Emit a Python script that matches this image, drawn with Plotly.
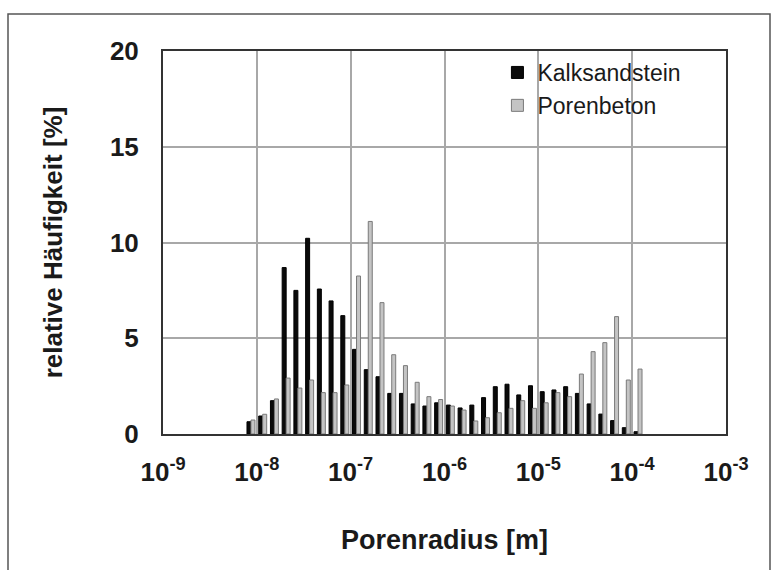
import plotly.graph_objects as go

# Bin centres, log10 of pore radius in metres (8 bins per decade)
radius_log10 = [-8.0625, -7.9375, -7.8125, -7.6875, -7.5625, -7.4375, -7.3125, -7.1875,
                -7.0625, -6.9375, -6.8125, -6.6875, -6.5625, -6.4375, -6.3125, -6.1875,
                -6.0625, -5.9375, -5.8125, -5.6875, -5.5625, -5.4375, -5.3125, -5.1875,
                -5.0625, -4.9375, -4.8125, -4.6875, -4.5625, -4.4375, -4.3125, -4.1875,
                -4.0625, -3.9375]

kalksandstein = [0.64, 0.94, 1.74, 8.69, 7.50, 10.22, 7.57, 6.95, 6.18, 4.42, 3.36, 2.99,
                 2.12, 2.12, 1.57, 1.46, 1.63, 1.51, 1.36, 1.51, 1.90, 2.47, 2.60, 2.04,
                 2.52, 2.21, 2.30, 2.47, 2.12, 1.57, 1.04, 0.70, 0.33, 0.12]

porenbeton = [0.73, 1.03, 1.83, 2.92, 2.40, 2.82, 2.16, 2.16, 2.56, 8.25, 11.10, 6.86,
              4.14, 3.57, 2.70, 1.95, 1.80, 1.46, 1.25, 0.68, 0.85, 1.11, 1.34, 1.74,
              1.34, 1.63, 2.16, 1.95, 3.13, 4.30, 4.77, 6.13, 2.82, 3.39]

x_tick_vals = [-9, -8, -7, -6, -5, -4, -3]
x_tick_text = ["10<sup>-9</sup>", "10<sup>-8</sup>", "10<sup>-7</sup>", "10<sup>-6</sup>",
               "10<sup>-5</sup>", "10<sup>-4</sup>", "10<sup>-3</sup>"]
y_tick_vals = [0, 5, 10, 15, 20]

FONT = "Liberation Sans, Arial, sans-serif"
TXT = "#1a1a1a"

fig = go.Figure()
fig.add_trace(go.Bar(
    x=radius_log10, y=kalksandstein, name="Kalksandstein",
    marker=dict(color="#0a0a0a", line=dict(color="#000000", width=1)),
))
fig.add_trace(go.Bar(
    x=radius_log10, y=porenbeton, name="Porenbeton",
    marker=dict(color="#c4c4c4", line=dict(color="#7a7a7a", width=1)),
))

fig.update_layout(
    width=771, height=570,
    margin=dict(l=163, r=45, t=51, b=136),
    paper_bgcolor="white", plot_bgcolor="white",
    barmode="group", bargap=0.32, bargroupgap=0.0,
    font=dict(family=FONT, color=TXT),
    legend=dict(
        x=0.594, y=1.0, xanchor="left", yanchor="top",
        bgcolor="rgba(0,0,0,0)", font=dict(size=23, family=FONT, color=TXT),
        itemwidth=30, tracegroupgap=0,
    ),
    showlegend=True,
)

fig.update_xaxes(
    range=[-9, -3], tickmode="array", tickvals=x_tick_vals, ticktext=x_tick_text,
    showgrid=True, gridcolor="#a8a8a8", gridwidth=2,
    showline=True, linecolor="#333333", linewidth=2, mirror=True,
    ticks="", ticklabelstandoff=14,
    tickfont=dict(size=26, family=FONT, weight="bold", color=TXT),
    title=dict(text="Porenradius [m]", font=dict(size=27, family=FONT, weight="bold", color=TXT),
               standoff=44),
    zeroline=False,
)
fig.update_yaxes(
    range=[0, 20], tickmode="array", tickvals=y_tick_vals,
    showgrid=True, gridcolor="#a8a8a8", gridwidth=2,
    showline=True, linecolor="#333333", linewidth=2, mirror=True,
    ticks="", ticklabelstandoff=17,
    tickfont=dict(size=26, family=FONT, weight="bold", color=TXT),
    title=dict(text="relative Häufigkeit [%]", font=dict(size=26, family=FONT, weight="bold", color=TXT),
               standoff=40),
    zeroline=False,
)

# outer frame of the figure
fig.add_shape(type="rect", xref="paper", yref="paper",
              x0=(8 - 163) / 563, x1=(770 - 163) / 563,
              y0=(434 - 580) / 383, y1=(434 - 14) / 383,
              line=dict(color="#555555", width=1.5), fillcolor="rgba(0,0,0,0)", layer="below")

fig.write_html("out.html")
